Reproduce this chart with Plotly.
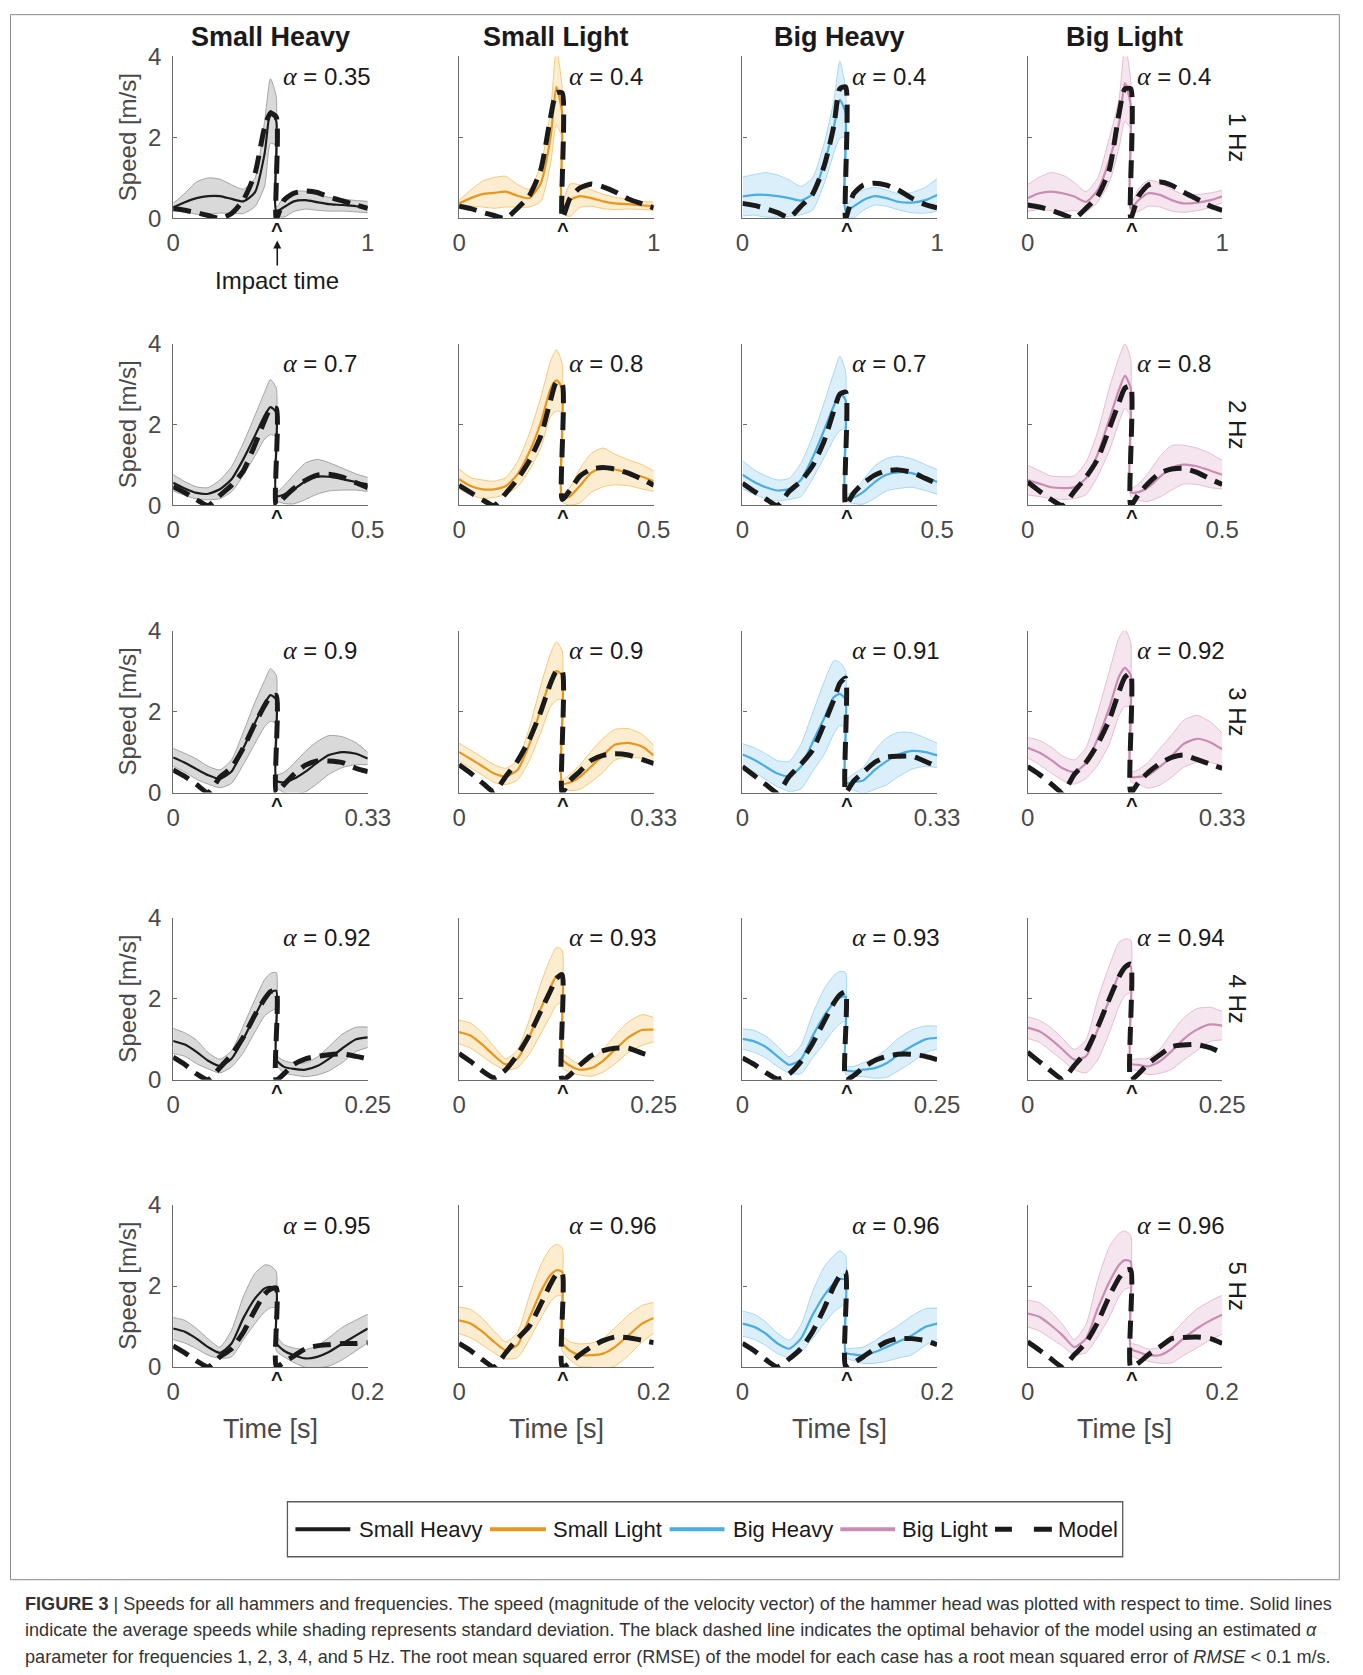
import plotly.graph_objects as go

# ---------------- data ----------------
# normalised phase within one cycle (0.53 appears twice: value just before / just after impact)
PHASE = [0, 0.06, 0.12, 0.18, 0.24, 0.30, 0.36, 0.42, 0.47, 0.50, 0.53, 0.53,
         0.57, 0.62, 0.68, 0.74, 0.80, 0.87, 0.94, 1.0]
IMPACT_PHASE = 0.535
PERIODS = [1.0, 0.5, 1 / 3, 0.25, 0.2]
PERIOD_LABELS = ["1", "0.5", "0.33", "0.25", "0.2"]
FREQ_LABELS = ["1 Hz", "2 Hz", "3 Hz", "4 Hz", "5 Hz"]
HAMMERS = ["Small Heavy", "Small Light", "Big Heavy", "Big Light"]
Y_TICKS = [0, 2, 4]

ALPHA_SMALL_HEAVY = [0.35, 0.7, 0.9, 0.92, 0.95]
ALPHA_SMALL_LIGHT = [0.4, 0.8, 0.9, 0.93, 0.96]
ALPHA_BIG_HEAVY = [0.4, 0.7, 0.91, 0.93, 0.96]
ALPHA_BIG_LIGHT = [0.4, 0.8, 0.92, 0.94, 0.96]

# ---- 1 Hz ----
SH1_MEAN = [0.27, 0.40, 0.50, 0.55, 0.55, 0.48, 0.42, 0.64, 1.60, 2.65, 2.40, 0.18, 0.28, 0.42, 0.45, 0.40, 0.35, 0.33, 0.30, 0.28]
SH1_SD = [0.10, 0.22, 0.40, 0.45, 0.42, 0.35, 0.30, 0.35, 0.80, 0.80, 0.60, 0.10, 0.25, 0.25, 0.22, 0.20, 0.17, 0.15, 0.14, 0.14]
SH1_MODEL = [0.25, 0.20, 0.14, 0.07, 0.00, 0.12, 0.45, 1.10, 2.25, 2.60, 2.50, 0.00, 0.45, 0.62, 0.68, 0.64, 0.53, 0.43, 0.33, 0.25]

SL1_MEAN = [0.37, 0.50, 0.60, 0.63, 0.66, 0.56, 0.50, 0.87, 2.00, 3.25, 2.60, 0.25, 0.45, 0.55, 0.50, 0.42, 0.37, 0.35, 0.32, 0.30]
SL1_SD = [0.08, 0.20, 0.32, 0.38, 0.38, 0.28, 0.22, 0.45, 0.65, 0.95, 0.60, 0.12, 0.40, 0.28, 0.20, 0.18, 0.15, 0.12, 0.10, 0.10]
SL1_MODEL = [0.30, 0.24, 0.15, 0.07, 0.00, 0.25, 0.55, 1.20, 2.50, 3.10, 3.10, 0.00, 0.50, 0.75, 0.85, 0.78, 0.66, 0.48, 0.36, 0.26]

BH1_MEAN = [0.54, 0.58, 0.58, 0.55, 0.50, 0.44, 0.60, 1.36, 2.27, 2.93, 2.60, 0.20, 0.29, 0.45, 0.55, 0.50, 0.41, 0.39, 0.45, 0.58]
BH1_SD = [0.48, 0.50, 0.55, 0.52, 0.45, 0.35, 0.40, 0.50, 0.65, 0.95, 0.60, 0.10, 0.28, 0.25, 0.22, 0.20, 0.20, 0.25, 0.32, 0.40]
BH1_MODEL = [0.37, 0.32, 0.24, 0.14, 0.02, 0.30, 0.60, 1.30, 2.30, 3.20, 3.25, 0.00, 0.60, 0.82, 0.87, 0.82, 0.70, 0.50, 0.34, 0.26]

BL1_MEAN = [0.50, 0.62, 0.66, 0.62, 0.54, 0.41, 0.70, 1.44, 2.35, 3.34, 2.80, 0.25, 0.45, 0.62, 0.58, 0.45, 0.37, 0.39, 0.45, 0.54]
BL1_SD = [0.33, 0.40, 0.47, 0.45, 0.35, 0.25, 0.30, 0.55, 0.60, 0.95, 0.60, 0.10, 0.28, 0.32, 0.30, 0.27, 0.22, 0.20, 0.18, 0.15]
BL1_MODEL = [0.33, 0.28, 0.20, 0.10, 0.00, 0.25, 0.55, 1.20, 2.60, 3.20, 3.20, 0.00, 0.55, 0.82, 0.90, 0.82, 0.65, 0.48, 0.30, 0.20]

# ---- 2 Hz ----
SH2_MEAN = [0.56, 0.42, 0.31, 0.29, 0.40, 0.65, 1.14, 1.72, 2.22, 2.43, 2.30, 0.23, 0.27, 0.40, 0.60, 0.71, 0.71, 0.65, 0.58, 0.52]
SH2_SD = [0.20, 0.17, 0.15, 0.15, 0.23, 0.31, 0.40, 0.50, 0.58, 0.68, 0.60, 0.10, 0.22, 0.36, 0.45, 0.43, 0.35, 0.27, 0.20, 0.17]
SH2_MODEL = [0.46, 0.32, 0.14, 0.00, 0.25, 0.50, 0.85, 1.50, 2.10, 2.40, 2.40, 0.00, 0.20, 0.42, 0.62, 0.75, 0.77, 0.70, 0.56, 0.44]

SL2_MEAN = [0.65, 0.48, 0.40, 0.40, 0.48, 0.77, 1.31, 2.05, 2.88, 3.09, 2.90, 0.19, 0.23, 0.48, 0.81, 0.94, 0.89, 0.81, 0.71, 0.60]
SL2_SD = [0.25, 0.21, 0.23, 0.20, 0.21, 0.31, 0.45, 0.62, 0.68, 0.76, 0.60, 0.10, 0.22, 0.42, 0.48, 0.48, 0.38, 0.32, 0.30, 0.25]
SL2_MODEL = [0.50, 0.32, 0.14, 0.00, 0.30, 0.65, 1.10, 1.72, 2.60, 3.05, 3.00, 0.15, 0.38, 0.72, 0.90, 0.94, 0.90, 0.80, 0.65, 0.50]

BH2_MEAN = [0.76, 0.58, 0.45, 0.37, 0.41, 0.63, 1.18, 1.87, 2.47, 2.77, 2.60, 0.20, 0.20, 0.33, 0.58, 0.76, 0.82, 0.80, 0.69, 0.58]
BH2_SD = [0.35, 0.30, 0.28, 0.26, 0.26, 0.41, 0.52, 0.68, 0.82, 0.92, 0.70, 0.08, 0.15, 0.30, 0.40, 0.40, 0.40, 0.35, 0.32, 0.30]
BH2_MODEL = [0.55, 0.35, 0.16, 0.00, 0.35, 0.60, 0.98, 1.60, 2.35, 2.75, 2.80, 0.00, 0.30, 0.55, 0.75, 0.86, 0.88, 0.82, 0.67, 0.54]

BL2_MEAN = [0.63, 0.54, 0.45, 0.43, 0.45, 0.67, 1.27, 2.13, 2.86, 3.20, 2.90, 0.33, 0.33, 0.45, 0.71, 0.93, 1.01, 0.97, 0.86, 0.76]
BL2_SD = [0.37, 0.32, 0.28, 0.28, 0.28, 0.40, 0.55, 0.77, 0.80, 0.80, 0.70, 0.10, 0.20, 0.35, 0.50, 0.55, 0.48, 0.45, 0.42, 0.35]
BL2_MODEL = [0.58, 0.36, 0.15, 0.00, 0.35, 0.70, 1.15, 1.90, 2.55, 2.90, 2.95, 0.00, 0.28, 0.55, 0.80, 0.90, 0.92, 0.82, 0.65, 0.52]

# ---- 3 Hz ----
SH3_MEAN = [0.87, 0.74, 0.58, 0.43, 0.34, 0.52, 1.09, 1.72, 2.20, 2.41, 2.30, 0.30, 0.25, 0.34, 0.52, 0.74, 0.93, 1.00, 0.96, 0.84]
SH3_SD = [0.22, 0.23, 0.25, 0.22, 0.22, 0.29, 0.40, 0.51, 0.57, 0.65, 0.60, 0.15, 0.25, 0.38, 0.50, 0.52, 0.48, 0.38, 0.27, 0.15]
SH3_MODEL = [0.56, 0.40, 0.20, 0.00, 0.38, 0.62, 1.10, 1.70, 2.15, 2.38, 2.40, 0.00, 0.20, 0.45, 0.68, 0.78, 0.78, 0.74, 0.60, 0.52]

SL3_MEAN = [1.00, 0.83, 0.65, 0.47, 0.40, 0.56, 1.18, 2.07, 2.78, 3.00, 2.90, 0.22, 0.25, 0.38, 0.65, 0.92, 1.18, 1.23, 1.14, 0.92]
SL3_SD = [0.22, 0.22, 0.22, 0.22, 0.20, 0.25, 0.40, 0.58, 0.66, 0.72, 0.60, 0.10, 0.20, 0.30, 0.38, 0.42, 0.38, 0.35, 0.30, 0.25]
SL3_MODEL = [0.69, 0.48, 0.24, 0.02, 0.40, 0.78, 1.30, 2.00, 2.70, 3.00, 3.00, 0.00, 0.30, 0.52, 0.80, 0.92, 0.96, 0.93, 0.82, 0.72]

BH3_MEAN = [0.94, 0.81, 0.64, 0.47, 0.40, 0.64, 1.24, 1.84, 2.36, 2.44, 2.30, 0.23, 0.26, 0.30, 0.56, 0.77, 0.94, 1.03, 1.00, 0.92]
BH3_SD = [0.27, 0.30, 0.32, 0.32, 0.37, 0.55, 0.72, 0.90, 0.90, 0.78, 0.70, 0.12, 0.20, 0.32, 0.48, 0.58, 0.55, 0.45, 0.35, 0.30]
BH3_MODEL = [0.64, 0.42, 0.20, 0.00, 0.40, 0.70, 1.05, 1.70, 2.30, 2.70, 2.83, 0.00, 0.28, 0.50, 0.75, 0.88, 0.90, 0.90, 0.77, 0.64]

BL3_MEAN = [1.11, 0.99, 0.81, 0.60, 0.51, 0.73, 1.33, 2.10, 2.87, 3.08, 2.90, 0.39, 0.39, 0.43, 0.64, 0.90, 1.20, 1.33, 1.24, 1.07]
BL3_SD = [0.25, 0.30, 0.32, 0.30, 0.30, 0.38, 0.65, 0.90, 0.96, 0.95, 0.80, 0.12, 0.18, 0.32, 0.45, 0.52, 0.58, 0.58, 0.50, 0.40]
BL3_MODEL = [0.64, 0.45, 0.22, 0.00, 0.45, 0.75, 1.20, 1.80, 2.50, 2.85, 2.95, 0.00, 0.25, 0.50, 0.72, 0.87, 0.93, 0.82, 0.70, 0.60]

# ---- 4 Hz ----
SH4_MEAN = [0.96, 0.87, 0.69, 0.47, 0.34, 0.52, 1.00, 1.58, 2.03, 2.16, 2.20, 0.50, 0.32, 0.27, 0.25, 0.34, 0.52, 0.78, 1.00, 1.05]
SH4_SD = [0.31, 0.29, 0.29, 0.20, 0.17, 0.20, 0.33, 0.40, 0.45, 0.47, 0.45, 0.12, 0.15, 0.15, 0.17, 0.22, 0.30, 0.35, 0.30, 0.25]
SH4_MODEL = [0.56, 0.38, 0.15, 0.00, 0.30, 0.62, 1.05, 1.60, 2.00, 2.18, 2.20, 0.00, 0.15, 0.38, 0.52, 0.58, 0.62, 0.64, 0.58, 0.52]

SL4_MEAN = [1.18, 1.09, 0.87, 0.60, 0.38, 0.52, 1.05, 1.76, 2.29, 2.56, 2.55, 0.50, 0.35, 0.25, 0.29, 0.47, 0.74, 1.05, 1.23, 1.24]
SL4_SD = [0.29, 0.31, 0.29, 0.22, 0.14, 0.22, 0.42, 0.62, 0.71, 0.71, 0.65, 0.20, 0.17, 0.13, 0.20, 0.28, 0.35, 0.38, 0.38, 0.30]
SL4_MODEL = [0.65, 0.45, 0.22, 0.05, 0.25, 0.62, 1.10, 1.70, 2.20, 2.50, 2.60, 0.00, 0.12, 0.36, 0.60, 0.72, 0.78, 0.78, 0.66, 0.58]

BH4_MEAN = [1.01, 0.95, 0.81, 0.58, 0.37, 0.50, 1.08, 1.58, 1.91, 2.03, 2.05, 0.25, 0.21, 0.25, 0.29, 0.41, 0.62, 0.83, 1.00, 1.04]
BH4_SD = [0.25, 0.27, 0.27, 0.25, 0.20, 0.35, 0.54, 0.67, 0.67, 0.65, 0.60, 0.10, 0.12, 0.17, 0.25, 0.35, 0.40, 0.40, 0.33, 0.28]
BH4_MODEL = [0.54, 0.38, 0.18, 0.02, 0.15, 0.45, 0.90, 1.45, 1.90, 2.10, 2.17, 0.00, 0.10, 0.30, 0.48, 0.58, 0.63, 0.63, 0.58, 0.50]

BL4_MEAN = [1.29, 1.20, 1.00, 0.75, 0.50, 0.58, 1.24, 1.99, 2.61, 2.78, 2.80, 0.40, 0.37, 0.33, 0.46, 0.71, 1.00, 1.24, 1.37, 1.34]
BL4_SD = [0.27, 0.27, 0.29, 0.27, 0.25, 0.41, 0.75, 0.83, 0.79, 0.70, 0.65, 0.12, 0.15, 0.20, 0.30, 0.45, 0.52, 0.52, 0.42, 0.35]
BL4_MODEL = [0.68, 0.45, 0.22, 0.02, 0.35, 0.70, 1.30, 2.00, 2.55, 2.78, 2.86, 0.00, 0.15, 0.40, 0.62, 0.82, 0.86, 0.87, 0.79, 0.66]

# ---- 5 Hz ----
SH5_MEAN = [0.95, 0.87, 0.70, 0.49, 0.35, 0.58, 1.20, 1.69, 1.94, 1.98, 1.90, 0.60, 0.40, 0.29, 0.21, 0.25, 0.37, 0.58, 0.78, 0.95]
SH5_SD = [0.27, 0.28, 0.25, 0.20, 0.14, 0.33, 0.53, 0.62, 0.58, 0.52, 0.45, 0.20, 0.15, 0.18, 0.22, 0.27, 0.35, 0.40, 0.38, 0.35]
SH5_MODEL = [0.52, 0.35, 0.15, 0.00, 0.25, 0.45, 0.85, 1.40, 1.80, 1.92, 1.95, 0.00, 0.12, 0.27, 0.45, 0.52, 0.55, 0.58, 0.58, 0.60]

SL5_MEAN = [1.15, 1.07, 0.87, 0.62, 0.41, 0.54, 1.20, 1.86, 2.27, 2.39, 2.35, 0.60, 0.40, 0.29, 0.29, 0.33, 0.49, 0.78, 1.07, 1.21]
SL5_SD = [0.33, 0.35, 0.33, 0.27, 0.21, 0.31, 0.53, 0.66, 0.66, 0.64, 0.60, 0.20, 0.22, 0.28, 0.30, 0.37, 0.47, 0.50, 0.45, 0.38]
SL5_MODEL = [0.58, 0.40, 0.18, 0.00, 0.35, 0.70, 1.00, 1.55, 2.05, 2.28, 2.31, 0.00, 0.10, 0.30, 0.50, 0.65, 0.74, 0.72, 0.66, 0.60]

BH5_MEAN = [1.07, 0.99, 0.82, 0.58, 0.45, 0.70, 1.28, 1.77, 2.06, 2.17, 2.15, 0.35, 0.31, 0.29, 0.37, 0.49, 0.62, 0.78, 0.99, 1.07]
BH5_SD = [0.31, 0.31, 0.29, 0.25, 0.21, 0.33, 0.58, 0.70, 0.70, 0.70, 0.60, 0.12, 0.15, 0.20, 0.28, 0.35, 0.40, 0.48, 0.45, 0.38]
BH5_MODEL = [0.58, 0.40, 0.18, 0.00, 0.20, 0.45, 0.87, 1.45, 2.00, 2.25, 2.35, 0.00, 0.10, 0.25, 0.45, 0.62, 0.70, 0.70, 0.65, 0.55]

BL5_MEAN = [1.32, 1.24, 1.03, 0.78, 0.49, 0.70, 1.44, 2.10, 2.52, 2.64, 2.60, 0.45, 0.37, 0.29, 0.29, 0.45, 0.70, 0.95, 1.15, 1.29]
BL5_SD = [0.33, 0.35, 0.33, 0.27, 0.19, 0.35, 0.70, 0.87, 0.78, 0.72, 0.65, 0.15, 0.17, 0.15, 0.20, 0.35, 0.42, 0.48, 0.48, 0.48]
BL5_MODEL = [0.62, 0.42, 0.20, 0.00, 0.30, 0.60, 1.10, 1.75, 2.20, 2.38, 2.40, 0.00, 0.10, 0.30, 0.50, 0.70, 0.73, 0.74, 0.70, 0.58]

# ---------------- tables built from the named lists ----------------
MEANS = [[SH1_MEAN, SL1_MEAN, BH1_MEAN, BL1_MEAN],
         [SH2_MEAN, SL2_MEAN, BH2_MEAN, BL2_MEAN],
         [SH3_MEAN, SL3_MEAN, BH3_MEAN, BL3_MEAN],
         [SH4_MEAN, SL4_MEAN, BH4_MEAN, BL4_MEAN],
         [SH5_MEAN, SL5_MEAN, BH5_MEAN, BL5_MEAN]]
SDS = [[SH1_SD, SL1_SD, BH1_SD, BL1_SD],
       [SH2_SD, SL2_SD, BH2_SD, BL2_SD],
       [SH3_SD, SL3_SD, BH3_SD, BL3_SD],
       [SH4_SD, SL4_SD, BH4_SD, BL4_SD],
       [SH5_SD, SL5_SD, BH5_SD, BL5_SD]]
MODELS = [[SH1_MODEL, SL1_MODEL, BH1_MODEL, BL1_MODEL],
          [SH2_MODEL, SL2_MODEL, BH2_MODEL, BL2_MODEL],
          [SH3_MODEL, SL3_MODEL, BH3_MODEL, BL3_MODEL],
          [SH4_MODEL, SL4_MODEL, BH4_MODEL, BL4_MODEL],
          [SH5_MODEL, SL5_MODEL, BH5_MODEL, BL5_MODEL]]
ALPHAS = [ALPHA_SMALL_HEAVY, ALPHA_SMALL_LIGHT, ALPHA_BIG_HEAVY, ALPHA_BIG_LIGHT]

# ---------------- styling ----------------
STYLES = [
    dict(line="#1c1c1c", fill="#d9d9d9", edge="#a3a3a3"),
    dict(line="#e8961c", fill="#fcecd0", edge="#f6c878"),
    dict(line="#4aade2", fill="#dbeffa", edge="#a6d7f2"),
    dict(line="#c98cb2", fill="#f5e5ee", edge="#e4bdd3"),
]
MODEL_COLOR = "#1a1a1a"
AXIS_COLOR = "#6b6b6b"
LABEL_COLOR = "#4a4a4a"
FONT = "Liberation Sans, Arial, Helvetica, sans-serif"

W, H = 1363, 1675
# the photographed page is shown slightly scaled/offset; positions below are
# target picture pixels, mapped back into figure pixels
SX, OX = 0.980, 5.0
SY, OY = 0.9845, 12.3

COL_LEFT = [171.5, 458.0, 742.0, 1027.7]
PANEL_W = 195.0
ROW_BOTTOM = [216.8, 504.1, 791.4, 1078.8, 1366.1]
PANEL_H = 162.0


def px(x):
    return min(max(((x - OX) / SX) / W, 0.0), 1.0)


def py(y):
    return min(max(1 - ((y - OY) / SY) / H, 0.0), 1.0)


fig = go.Figure()
layout_axes = {}
annotations = []
shapes = []
SPL = dict(shape="spline", smoothing=0.6)

for r in range(5):
    period = PERIODS[r]
    t = [p * period for p in PHASE]
    for c in range(4):
        k = r * 4 + c + 1
        xa = "x" if k == 1 else f"x{k}"
        ya = "y" if k == 1 else f"y{k}"
        st = STYLES[c]
        mean, sd, model = MEANS[r][c], SDS[r][c], MODELS[r][c]
        upper = [m + s for m, s in zip(mean, sd)]
        lower = [m - s for m, s in zip(mean, sd)]

        fig.add_trace(go.Scatter(x=t + t[::-1], y=upper + lower[::-1], mode="lines",
                                 fill="toself", fillcolor=st["fill"],
                                 line=dict(width=0, **SPL), xaxis=xa, yaxis=ya,
                                 hoverinfo="skip", showlegend=False))
        for edge in (upper, lower):
            fig.add_trace(go.Scatter(x=t, y=edge, mode="lines",
                                     line=dict(color=st["edge"], width=1, **SPL),
                                     xaxis=xa, yaxis=ya, hoverinfo="skip", showlegend=False))
        fig.add_trace(go.Scatter(x=t, y=mean, mode="lines", name=HAMMERS[c],
                                 line=dict(color=st["line"], width=2.2, **SPL),
                                 xaxis=xa, yaxis=ya, showlegend=False))
        fig.add_trace(go.Scatter(x=t, y=model, mode="lines", name="Model",
                                 line=dict(color=MODEL_COLOR, width=5, dash="18px,9px", **SPL),
                                 xaxis=xa, yaxis=ya, showlegend=False))

        x0 = COL_LEFT[c]
        yb = ROW_BOTTOM[r]
        yt = yb - PANEL_H
        layout_axes["xaxis" if k == 1 else f"xaxis{k}"] = dict(
            domain=[px(x0), px(x0 + PANEL_W)], anchor=ya,
            range=[0, period], showgrid=False, zeroline=False, showline=True,
            linecolor=AXIS_COLOR, linewidth=1.2, ticks="inside", ticklen=4, tickcolor=AXIS_COLOR,
            tickvals=[0, period], ticktext=["0", PERIOD_LABELS[r]],
            tickfont=dict(size=24, color=LABEL_COLOR, family=FONT), ticklabelstandoff=3,
            fixedrange=True)
        layout_axes["yaxis" if k == 1 else f"yaxis{k}"] = dict(
            domain=[py(yb), py(yt)], anchor=xa, range=[0, 4], showgrid=False, zeroline=False,
            showline=True, linecolor=AXIS_COLOR, linewidth=1.2, ticks="inside", ticklen=4,
            tickcolor=AXIS_COLOR, tickvals=Y_TICKS, showticklabels=(c == 0),
            tickfont=dict(size=24, color=LABEL_COLOR, family=FONT), ticklabelstandoff=6,
            fixedrange=True)

        # alpha label
        annotations.append(dict(
            x=px(x0 + 108), y=py(yt + 20), xref="paper", yref="paper", xanchor="left",
            yanchor="middle", showarrow=False,
            text=('<span style="font-family:Liberation Serif, Times New Roman, serif;font-size:26px">'
                  '<i>α</i></span> = ' + str(ALPHAS[c][r])),
            font=dict(size=24, color="#1a1a1a", family=FONT)))
        # impact marker
        annotations.append(dict(
            x=IMPACT_PHASE * period, xref=xa, y=py(yb + 12), yref="paper",
            xanchor="center", yanchor="middle", showarrow=False, text="<b>^</b>",
            font=dict(size=20, color="#1a1a1a", family=FONT)))

    # row label (frequency)
    annotations.append(dict(
        x=px(1238), y=py(ROW_BOTTOM[r] - PANEL_H / 2), xref="paper", yref="paper",
        xanchor="center", yanchor="middle", showarrow=False, textangle=90,
        text=FREQ_LABELS[r], font=dict(size=24, color="#1a1a1a", family=FONT)))
    # y-axis title
    annotations.append(dict(
        x=px(126), y=py(ROW_BOTTOM[r] - PANEL_H / 2), xref="paper", yref="paper",
        xanchor="center", yanchor="middle", showarrow=False, textangle=-90,
        text="Speed [m/s]", font=dict(size=24, color=LABEL_COLOR, family=FONT)))

for c in range(4):
    cx = COL_LEFT[c] + PANEL_W / 2
    annotations.append(dict(
        x=px(cx), y=py(35), xref="paper", yref="paper", xanchor="center", yanchor="middle",
        showarrow=False, text="<b>" + HAMMERS[c] + "</b>",
        font=dict(size=27, color="#1a1a1a", family=FONT)))
    annotations.append(dict(
        x=px(cx), y=py(1428), xref="paper", yref="paper", xanchor="center", yanchor="middle",
        showarrow=False, text="Time [s]", font=dict(size=27, color=LABEL_COLOR, family=FONT)))

# impact time arrow
annotations.append(dict(
    x=IMPACT_PHASE * PERIODS[0], xref="x", y=py(239), yref="paper", ax=0, ay=40,
    showarrow=True, arrowhead=2, arrowsize=1, arrowwidth=1.6, arrowcolor="#1a1a1a",
    text="Impact time", font=dict(size=24, color="#1a1a1a", family=FONT)))

# legend (drawn manually)
LEG_Y = 1528.5
shapes.append(dict(type="rect", xref="paper", yref="paper", x0=px(286), x1=px(1123),
                   y0=py(1556), y1=py(1501), line=dict(color="#5a5a5a", width=1.3)))
LEG_ITEMS = [(294, 349, STYLES[0]["line"], 356, "Small Heavy"),
             (489, 545, STYLES[1]["line"], 550, "Small Light"),
             (669, 724, STYLES[2]["line"], 730, "Big Heavy"),
             (840, 895, STYLES[3]["line"], 900, "Big Light")]
for xa0, xa1, col, tx, label in LEG_ITEMS:
    shapes.append(dict(type="line", xref="paper", yref="paper", x0=px(xa0), x1=px(xa1),
                       y0=py(LEG_Y), y1=py(LEG_Y), line=dict(color=col, width=4)))
    annotations.append(dict(x=px(tx), y=py(LEG_Y), xref="paper", yref="paper", xanchor="left",
                            yanchor="middle", showarrow=False, text=label,
                            font=dict(size=22, color="#1a1a1a", family=FONT)))
for xa0, xa1 in [(995, 1012), (1034, 1052)]:
    shapes.append(dict(type="line", xref="paper", yref="paper", x0=px(xa0), x1=px(xa1),
                       y0=py(LEG_Y), y1=py(LEG_Y), line=dict(color=MODEL_COLOR, width=5)))
annotations.append(dict(x=px(1056), y=py(LEG_Y), xref="paper", yref="paper", xanchor="left",
                        yanchor="middle", showarrow=False, text="Model",
                        font=dict(size=22, color="#1a1a1a", family=FONT)))

# outer frame
shapes.append(dict(type="rect", xref="paper", yref="paper",
                   x0=max(px(8.5), 0.0005), x1=min(px(1353), 0.9995),
                   y0=py(1579), y1=min(py(5.5), 0.9996), line=dict(color="#8a8a8a", width=1)))

# caption
CAPTION = [
    "<b>FIGURE 3</b> | Speeds for all hammers and frequencies. The speed (magnitude of the velocity vector) "
    "of the hammer head was plotted with respect to time. Solid lines",
    "indicate the average speeds while shading represents standard deviation. The black dashed line "
    "indicates the optimal behavior of the model using an estimated <i>α</i>",
    "parameter for frequencies 1, 2, 3, 4, and 5 Hz. The root mean squared error (RMSE) of the model "
    "for each case has a root mean squared error of <i>RMSE</i> &lt; 0.1 m/s.",
]
for i, line in enumerate(CAPTION):
    annotations.append(dict(x=px(21), y=py(1603 + 26.5 * i), xref="paper", yref="paper",
                            xanchor="left", yanchor="middle", showarrow=False, text=line,
                            font=dict(size=18.1, color="#333333", family=FONT)))

fig.update_layout(
    width=W, height=H, autosize=False, margin=dict(l=0, r=0, t=0, b=0),
    paper_bgcolor="white", plot_bgcolor="white", showlegend=False,
    font=dict(family=FONT, color="#1a1a1a"),
    annotations=annotations, shapes=shapes, **layout_axes)

PAGE_FIX = ("document.documentElement.style.margin='0';"
            "document.documentElement.style.padding='0';"
            "document.documentElement.style.overflow='hidden';"
            "document.body.style.margin='0';"
            "document.body.style.padding='0';"
            "document.body.style.overflow='hidden';")

fig.write_html("out.html", config={"responsive": False, "displayModeBar": False},
               post_script=PAGE_FIX)
